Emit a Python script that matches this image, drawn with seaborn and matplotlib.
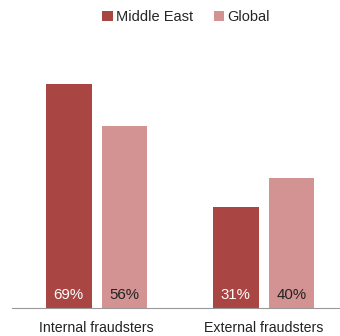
import matplotlib
matplotlib.use("Agg")
import matplotlib.pyplot as plt
import seaborn as sns
import pandas as pd

# Share of fraud cases by perpetrator type
categories = ["Internal fraudsters", "External fraudsters"]
regions = ["Middle East", "Global"]
middle_east = [69, 31]
global_vals = [56, 40]

df = pd.DataFrame({
    "category": categories * 2,
    "region": [regions[0]] * 2 + [regions[1]] * 2,
    "value": middle_east + global_vals,
})

sns.set_theme(style="white")
plt.rcParams["font.family"] = ["Liberation Sans", "DejaVu Sans"]

palette = {"Middle East": "#A94543", "Global": "#D39392"}

fig = plt.figure(figsize=(3.4, 3.36), dpi=100)
ax = fig.add_axes([12 / 340, 1 - 308 / 336, 328 / 340, 243.5 / 336])

sns.barplot(data=df, x="category", y="value", hue="region", order=categories,
            hue_order=regions, palette=palette, width=0.665, gap=0.18,
            saturation=1, ax=ax, edgecolor="none")

ax.set_ylim(0, 75)
ax.set_xlim(-0.506, 1.458)
ax.set_xlabel("")
ax.set_ylabel("")
ax.set_yticks([])
ax.tick_params(axis="x", length=0, labelsize=10.2, pad=9, colors="#222222")
for s in ["top", "right", "left"]:
    ax.spines[s].set_visible(False)
ax.spines["bottom"].set_color("#999999")
ax.spines["bottom"].set_linewidth(0.8)

# value labels inside the bars near the baseline
text_colors = {"Middle East": "white", "Global": "#222222"}
for container, region in zip(ax.containers, regions):
    for bar, v in zip(container, container.datavalues):
        ax.text(bar.get_x() + bar.get_width() / 2, 3.9, f"{int(v)}%",
                ha="center", va="center", fontsize=10.8,
                color=text_colors[region])

sns.move_legend(ax, "center", bbox_to_anchor=(0.5 + 0.048, 1 - 17 / 336),
                bbox_transform=fig.transFigure, ncol=2, frameon=False, title=None,
                fontsize=10.5, handlelength=0.7, handleheight=0.7,
                handletextpad=0.25, columnspacing=1.4, borderaxespad=0)

fig.savefig("out.png", dpi=100)
